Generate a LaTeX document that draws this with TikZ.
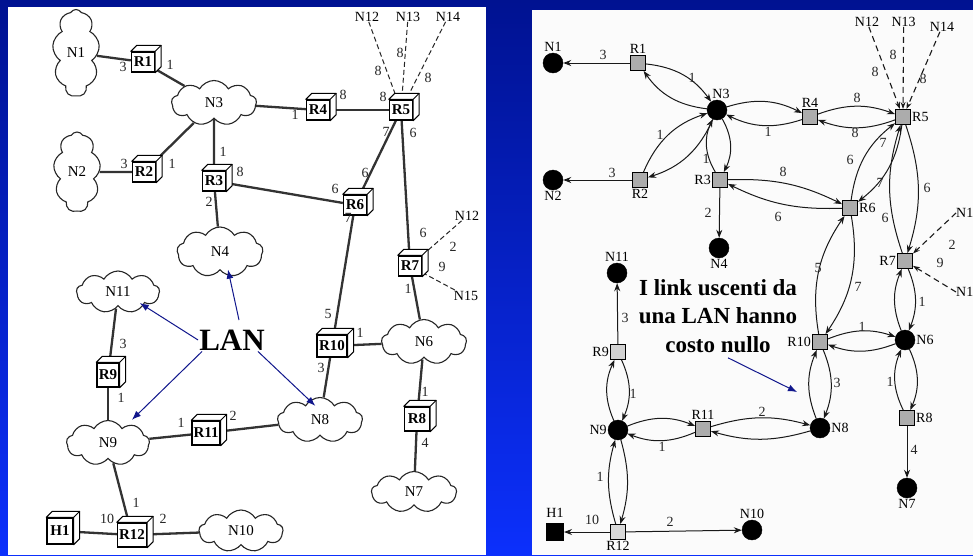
\documentclass[tikz,border=0pt]{standalone}
\usepackage{fontspec}
\setmainfont{Liberation Serif}
\usetikzlibrary{shapes.symbols,arrows.meta,calc}
\pgfdeclarelayer{back}
\pgfdeclarelayer{bg}
\pgfsetlayers{back,bg,main}
\definecolor{bgtop}{RGB}{0,18,145}
\definecolor{bgbot}{RGB}{12,48,252}
\definecolor{lanblue}{RGB}{16,22,140}
\newcounter{lblc}
\newcommand{\lbl}[3]{\stepcounter{lblc}\node[elab] (lb\arabic{lblc}) at (#1,#2) {#3};}
\newcommand{\cubeside}[1]{%
  \draw[line width=1pt, fill=white, line join=round] (#1.north west) -- ++(6,-6) -| ([shift={(6,-6)}]#1.south east) -- (#1.south east) -- (#1.north east) -- cycle;
  \draw[line width=1pt] (#1.north east) -- ++(6,-6);}
\newcommand{\pairb}[3]{\draw[ar] (#1) to[bend left=#3] (#2); \draw[ar] (#2) to[bend left=#3] (#1);}
\begin{document}
\begin{tikzpicture}[x=1pt,y=-1pt,
  elab/.style={inner sep=0pt, font=\fontsize{14}{14}\selectfont, text=black!85},
  cl/.style={cloud, cloud puffs=9, cloud puff arc=120, cloud ignores aspect, draw=black!85, line width=1.1pt, fill=white, inner sep=0pt, font=\fontsize{15}{15}\selectfont},
  cube/.style={draw=black, line width=1.4pt, fill=white, minimum width=23, minimum height=20, inner sep=0pt, font=\bfseries\fontsize{15}{15}\selectfont},
  lk/.style={line width=2.3pt, draw=black!80},
  dsh/.style={line width=1pt, draw=black!85, dash pattern=on 5pt off 3pt},
  nlab/.style={inner sep=0pt, font=\fontsize{14}{14}\selectfont},
  dot/.style={circle, fill=black, draw=black, minimum size=20, inner sep=0pt},
  sq/.style={draw=black, fill=gray!65, minimum size=15, inner sep=0pt, line width=1pt},
  rl/.style={font=\fontsize{14}{14}\selectfont, inner sep=1pt},
  ar/.style={draw=black!90, line width=1pt, -{Stealth[length=8pt,width=6pt]}},
  dar/.style={draw=black!90, line width=1.1pt, dash pattern=on 6pt off 4pt, -{Stealth[length=7pt,width=5pt]}},
  blu/.style={draw=lanblue, line width=1pt, -{Latex[length=9pt,width=7pt]}}
]
\useasboundingbox (0,0) rectangle (973,555);
\begin{pgfonlayer}{back}
\shade[top color=bgtop, bottom color=bgbot] (0,0) rectangle (973,555);
\fill[white] (8,7) rectangle (486,555);
\fill[white!97!gray] (532,10) rectangle (973,555);
\end{pgfonlayer}

% ================= LEFT PANEL =================
\node[cl, minimum width=47, minimum height=87] (N1) at (76,53) {N1};
\node[cl, minimum width=47, minimum height=80] (N2) at (77,172) {N2};
\node[cl, minimum width=85, minimum height=45] (N3) at (214,103) {N3};
\node[cl, minimum width=86, minimum height=50] (N4) at (220,252) {N4};
\node[cl, minimum width=83, minimum height=42] (N11) at (118,292) {N11};
\node[cl, minimum width=83, minimum height=45] (N9) at (108,443) {N9};
\node[cl, minimum width=85, minimum height=45] (N8) at (320,420) {N8};
\node[cl, minimum width=85, minimum height=45] (N6) at (424,342) {N6};
\node[cl, minimum width=85, minimum height=41] (N7) at (414,492) {N7};
\node[cl, minimum width=84, minimum height=42] (N10) at (241,531) {N10};

\node[cube] (R1) at (143,62) {R1}; \cubeside{R1}
\node[cube] (R2) at (144,172) {R2}; \cubeside{R2}
\node[cube] (R3) at (214,181) {R3}; \cubeside{R3}
\node[cube] (R4) at (318,110) {R4}; \cubeside{R4}
\node[cube] (R5) at (401,110) {R5}; \cubeside{R5}
\node[cube] (R6) at (355,205) {R6}; \cubeside{R6}
\node[cube] (R7) at (410,266) {R7}; \cubeside{R7}
\node[cube, minimum width=25, minimum height=24] (R8) at (417,419) {R8}; \cubeside{R8}
\node[cube, minimum width=22, minimum height=24] (R9) at (108,375) {R9}; \cubeside{R9}
\node[cube, minimum width=30, minimum height=22] (R10) at (332,346) {R10}; \cubeside{R10}
\node[cube, minimum width=28, minimum height=24] (R11) at (206,433) {R11}; \cubeside{R11}
\node[cube, minimum width=29, minimum height=24] (R12) at (132,535) {R12}; \cubeside{R12}
\node[cube, minimum width=26, minimum height=26] (H1) at (60,531) {H1}; \cubeside{H1}

\node[nlab] (LN12) at (367,17) {N12};
\node[nlab] (LN13) at (408,17) {N13};
\node[nlab] (LN14) at (448,17) {N14};
\node[nlab] (LN12b) at (467,216) {N12};
\node[nlab] (LN15) at (466,296) {N15};

\begin{pgfonlayer}{bg}
\draw[lk] (N1) -- (R1);
\draw[lk] (R1) -- (N3);
\draw[lk] (N2) -- (R2);
\draw[lk] (R2) -- (N3);
\draw[lk] (N3) -- (R4);
\draw[lk] (R4) -- (R5);
\draw[lk] (N3) -- (R3);
\draw[lk] (R3) -- (R6);
\draw[lk] (R3) -- (N4);
\draw[lk] (R5) -- (R6);
\draw[lk] (R5) -- (R7);
\draw[lk] (R6) -- (R10);
\draw[lk] (R7) -- (N6);
\draw[lk] (R10) -- (N6);
\draw[lk] (N8) -- (R10);
\draw[lk] (N6) -- (R8);
\draw[lk] (R8) -- (N7);
\draw[lk] (N11) -- (R9);
\draw[lk] (R9) -- (N9);
\draw[lk] (N9) -- (R11);
\draw[lk] (R11) -- (N8);
\draw[lk] (N9) -- (R12);
\draw[lk] (H1) -- (R12);
\draw[lk] (R12) -- (N10);
\draw[dsh] (LN12) -- (R5);
\draw[dsh] (LN13) -- (R5);
\draw[dsh] (LN14) -- (R5);
\draw[dsh] (R7) -- (LN12b);
\draw[dsh] (R7) -- (LN15);
\end{pgfonlayer}

\lbl{123}{67}{3} \lbl{170}{65}{1}
\lbl{295}{115}{1} \lbl{343}{95}{8} \lbl{383}{97}{8}
\lbl{378}{71}{8} \lbl{400}{53}{8} \lbl{428}{78}{8}
\lbl{386}{132}{7} \lbl{413}{133}{6}
\lbl{365}{173}{6} \lbl{335}{189}{6} \lbl{348}{218}{7}
\lbl{223}{152}{1} \lbl{240}{172}{8} \lbl{209}{202}{2}
\lbl{124}{164}{3} \lbl{172}{164}{1}
\lbl{423}{233}{6} \lbl{453}{247}{2} \lbl{442}{267}{9} \lbl{408}{289}{1}
\lbl{123}{344}{3} \lbl{121}{398}{1}
\lbl{181}{423}{1} \lbl{233}{416}{2}
\lbl{321}{368}{3} \lbl{328}{314}{5} \lbl{360}{333}{1}
\lbl{425}{392}{1} \lbl{425}{443}{4}
\lbl{136}{503}{1} \lbl{107}{519}{10} \lbl{163}{519}{2}

\node[inner sep=1pt, font=\bfseries\fontsize{31}{31}\selectfont] (LAN) at (232,340) {LAN};
\coordinate (lanA) at (239,320);
\draw[blu] (lanA) -- ([shift={(8,-1)}]N4.south);
\draw[blu] (LAN.west) -- ([shift={(-4,-2)}]N11.south east);
\draw[blu] ([shift={(4,0)}]LAN.south west) -- ([shift={(-6,-7)}]N9.north east);
\draw[blu] ([shift={(-8,0)}]LAN.south east) -- ([shift={(26,2)}]N8.north west);

% ================= RIGHT PANEL =================
\node[dot, label={[rl]above:N1}] (rN1) at (553,63) {};
\node[sq, label={[rl]above:R1}] (rR1) at (638,63) {};
\node[dot, label={[rl,xshift=4pt]above:N3}] (rN3) at (717,110) {};
\node[sq, label={[rl]above:R4}] (rR4) at (810,117) {};
\node[sq, label={[rl]right:R5}] (rR5) at (903,117) {};
\node[sq, label={[rl]below:R2}] (rR2) at (640,180) {};
\node[dot, label={[rl]below:N2}] (rN2) at (553,180) {};
\node[sq, label={[rl]left:R3}] (rR3) at (720,180) {};
\node[dot, label={[rl]below:N4}] (rN4) at (719,248) {};
\node[sq, label={[rl]right:R6}] (rR6) at (850,208) {};
\node[sq, label={[rl]left:R7}] (rR7) at (905,261) {};
\node[dot, label={[rl]right:N6}] (rN6) at (905,340) {};
\node[sq, label={[rl]left:R10}] (rR10) at (820,342) {};
\node[dot, label={[rl]right:N8}] (rN8) at (820,428) {};
\node[sq, label={[rl]right:R8}] (rR8) at (907,418) {};
\node[dot, label={[rl]below:N7}] (rN7) at (907,488) {};
\node[dot, label={[rl]above:N11}] (rN11) at (617,273) {};
\node[sq, fill=gray!35, label={[rl]left:R9}] (rR9) at (618,352) {};
\node[dot, label={[rl]left:N9}] (rN9) at (618,430) {};
\node[sq, label={[rl]above:R11}] (rR11) at (703,429) {};
\node[sq, fill=gray!30, label={[rl]below:R12}] (rR12) at (618,532) {};
\node[sq, fill=black, minimum size=17] (rH1) at (555,532) {};
\node[rl] (rH1l) at (555,513) {H1};
\node[dot, label={[rl]above:N10}] (rN10) at (752,530) {};

\node[nlab] (rN12) at (867,22) {N12};
\node[nlab] (rN13) at (903.6,22) {N13};
\node[nlab] (rN14) at (942,27) {N14};
\node[nlab, anchor=west] (rN12b) at (956,213) {N12};
\node[nlab, anchor=west] (rN15) at (956,292) {N15};

\draw[ar] (rR1) -- (rN1);
\draw[ar] (rR2) -- (rN2);
\draw[ar] (rR3) -- (rN4);
\draw[ar] (rR8) -- (rN7);
\draw[ar] (rR9) -- (rN11);
\draw[ar] (rR12) -- (rH1);
\draw[ar] (rR12) -- (rN10);
\pairb{rR1}{rN3}{24}
\pairb{rN3}{rR4}{22}
\pairb{rR4}{rR5}{20}
\pairb{rN3}{rR2}{24}
\pairb{rN3}{rR3}{28}
\pairb{rR3}{rR6}{14}
\pairb{rR5}{rR6}{22}
\pairb{rR5}{rR7}{18}
\pairb{rR7}{rN6}{22}
\pairb{rR6}{rR10}{22}
\pairb{rR10}{rN6}{20}
\pairb{rR10}{rN8}{22}
\pairb{rN6}{rR8}{24}
\pairb{rR9}{rN9}{24}
\pairb{rN9}{rR11}{22}
\pairb{rR11}{rN8}{16}
\pairb{rN9}{rR12}{16}
\draw[dar] (rN12) -- (rR5);
\draw[dar] (rN13.south) -- (rR5.north);
\draw[dar] (rN14) -- (rR5);
\draw[dar] (rN12b.west) -- (rR7);
\draw[dar] (rN15.west) -- (rR7);

\lbl{603}{55}{3} \lbl{692}{78}{1} \lbl{768}{132}{1}
\lbl{857}{98}{8} \lbl{855}{133}{8}
\lbl{875}{72}{8} \lbl{893}{55}{8} \lbl{923}{79}{8}
\lbl{660}{135}{1} \lbl{612}{173}{3} \lbl{706}{159}{1} \lbl{708}{213}{2}
\lbl{783}{172}{8} \lbl{778}{217}{6}
\lbl{850}{160}{6} \lbl{883}{143}{7} \lbl{880}{183}{7}
\lbl{927}{188}{6} \lbl{885}{218}{6}
\lbl{952}{245}{2} \lbl{940}{263}{9}
\lbl{922}{302}{1}
\lbl{818}{268}{5} \lbl{858}{287}{7}
\lbl{862}{327}{1} \lbl{837}{383}{3} \lbl{890}{382}{1} \lbl{914}{450}{4}
\lbl{625}{318}{3} \lbl{633}{394}{1} \lbl{662}{447}{1} \lbl{762}{412}{2}
\lbl{600}{477}{1} \lbl{592}{520}{10} \lbl{670}{522}{2}

\node[align=center, inner sep=1pt, font=\bfseries\fontsize{23}{28.5}\selectfont] (note) at (718,316) {I link uscenti da\\una LAN hanno\\costo nullo};
\coordinate (noteTip) at (797,392);
\draw[blu] ([shift={(10,4)}]note.south) -- (noteTip);
\end{tikzpicture}
\end{document}
